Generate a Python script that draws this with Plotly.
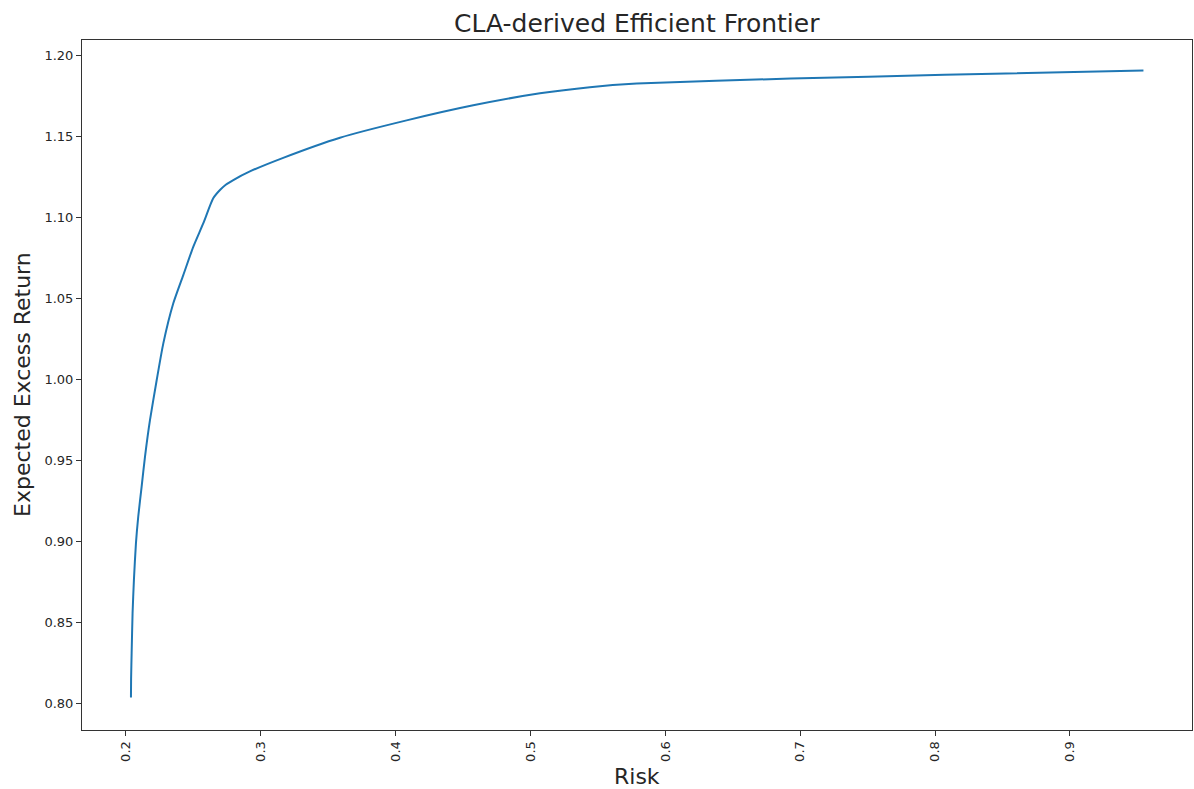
import plotly.graph_objects as go

risk = [0.2037, 0.2038, 0.2042, 0.2049, 0.2059, 0.2074, 0.2091, 0.2116, 0.2141, 0.2178,
        0.2228, 0.2277, 0.2351, 0.2425, 0.2499, 0.2573, 0.2647, 0.2697, 0.2740, 0.2796,
        0.2919, 0.3166, 0.3587, 0.4081, 0.4575, 0.5070, 0.5440, 0.5788,
        0.6930, 0.8070, 0.9545]
ret = [0.8035, 0.8150, 0.8308, 0.8555, 0.8761, 0.8987, 0.9151, 0.9336, 0.9521, 0.9747,
       0.9995, 1.0221, 1.0468, 1.0642, 1.0817, 1.0961, 1.1116, 1.1167, 1.1200, 1.1229,
       1.1282, 1.1366, 1.1490, 1.1597, 1.1690, 1.1764, 1.1802, 1.1824,
       1.1855, 1.1878, 1.1905]

x_ticks = [0.2, 0.3, 0.4, 0.5, 0.6, 0.7, 0.8, 0.9]
x_tick_labels = ["0.2", "0.3", "0.4", "0.5", "0.6", "0.7", "0.8", "0.9"]
y_ticks = [0.80, 0.85, 0.90, 0.95, 1.00, 1.05, 1.10, 1.15, 1.20]
y_tick_labels = ["0.80", "0.85", "0.90", "0.95", "1.00", "1.05", "1.10", "1.15", "1.20"]

W, H = 1194, 789
L, R, T, B = 82, 2, 40, 59

fig = go.Figure()
fig.add_trace(go.Scatter(x=risk, y=ret, mode="lines",
                         line=dict(color="#1f77b4", width=2, shape="spline", smoothing=0.6),
                         showlegend=False, hoverinfo="skip"))

font = "DejaVu Sans"
axis_common = dict(showline=True, linecolor="#333333", linewidth=1, mirror=True,
                   ticks="outside", ticklen=5, tickwidth=1, tickcolor="#333333",
                   showgrid=False, zeroline=False,
                   tickfont=dict(family=font, size=13, color="#262626"))

fig.update_layout(
    width=W, height=H,
    margin=dict(l=L, r=R, t=T, b=B),
    paper_bgcolor="white", plot_bgcolor="white",
    font=dict(family=font),
    xaxis=dict(range=[0.1674, 0.9905], tickvals=x_ticks, ticktext=x_tick_labels,
               tickangle=-90, **axis_common),
    yaxis=dict(range=[0.7835, 1.2093], tickvals=y_ticks, ticktext=y_tick_labels,
               **axis_common),
    annotations=[
        dict(text="CLA-derived Efficient Frontier", xref="paper", yref="paper",
             x=0.5, y=1 + (T - 23) / (H - T - B),
             xanchor="center", yanchor="middle", showarrow=False,
             font=dict(family=font, size=25, color="#262626")),
        dict(text="Risk", xref="paper", yref="paper",
             x=(637 - L) / (W - L - R), y=-(777 - (H - B)) / (H - T - B),
             xanchor="center", yanchor="middle", showarrow=False,
             font=dict(family=font, size=22, color="#262626")),
        dict(text="Expected Excess Return", xref="paper", yref="paper",
             x=-(L - 22) / (W - L - R), y=(H - B - 385) / (H - T - B),
             xanchor="center", yanchor="middle", textangle=-90, showarrow=False,
             font=dict(family=font, size=22, color="#262626")),
    ],
)

fig.write_html("out.html")
